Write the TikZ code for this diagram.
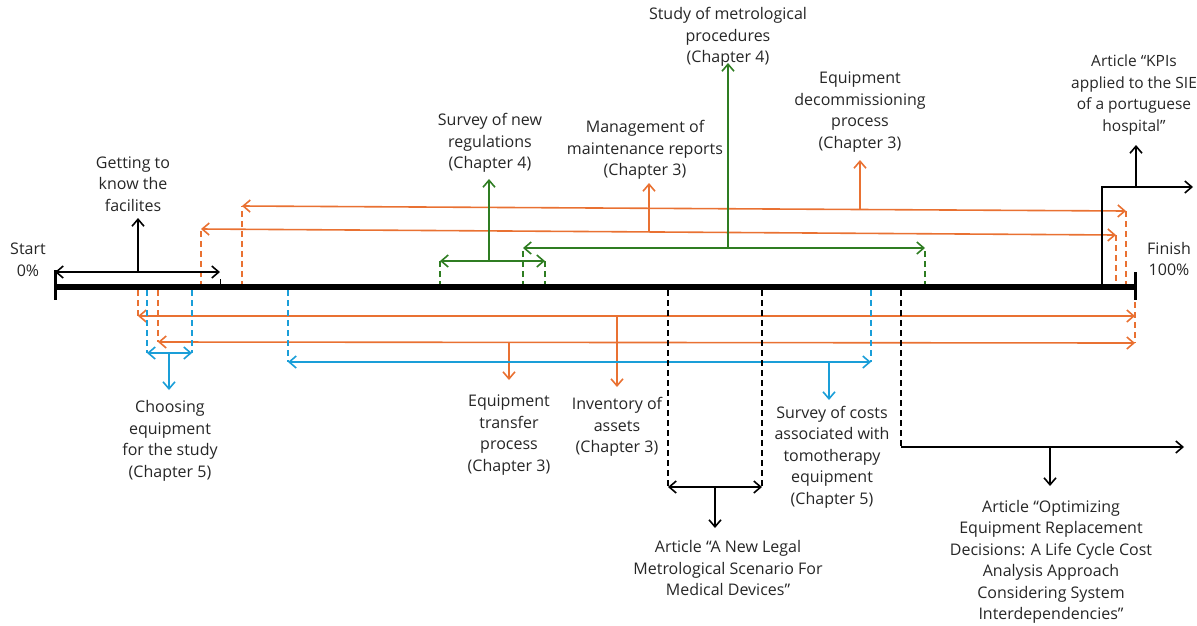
\documentclass[tikz,border=0pt]{standalone}
\usepackage{fontspec}
\setmainfont{Open Sans}
\usetikzlibrary{arrows.meta}
\definecolor{tlorange}{HTML}{E97132}
\definecolor{tlblue}{HTML}{1A9ED8}
\definecolor{tlgreen}{HTML}{2F7D22}
\definecolor{tltext}{HTML}{262626}
\begin{document}
\begin{tikzpicture}[x=1pt,y=-1pt,
  lbl/.style={align=center,inner sep=0pt,font=\fontsize{16}{21.5}\selectfont,text=tltext},
  tip/.tip={Straight Barb[length=7pt,width=12pt]},
  span/.style={line width=1.6pt,tip-tip},
  pointer/.style={line width=1.6pt,-tip},
  guide/.style={line width=1.6pt,dash pattern=on 6pt off 4pt},
]
\useasboundingbox (0,0) rectangle (1197,625);

% ---- main time axis ----
\coordinate (ax0) at (55,287);
\coordinate (ax1) at (1135,287);
\coordinate (st0) at (55,270);
\coordinate (st1) at (55,300);
\coordinate (fn0) at (1135,272);
\coordinate (fn1) at (1135,300);

\node[lbl] (start) at (28,260) {Start\\0\%};
\node[lbl] (finish) at (1169,259) {Finish\\100\%};

% ---- orange items ----
% Equipment decommissioning process
\coordinate (dc0) at (242,287); \coordinate (dc1) at (242,206);
\coordinate (dc2) at (1126,211); \coordinate (dc3) at (1126,287);
\coordinate (dcm) at (860,209); \coordinate (dct) at (860,160);
\draw[tlorange,guide] (dc0) -- (dc1);
\draw[tlorange,guide] (dc2) -- (dc3);
\draw[tlorange,span] (dc1) -- (dc2);
\draw[tlorange,pointer] (dcm) -- (dct);
\node[lbl] (decom) at (860,112) {Equipment\\decommissioning\\process\\(Chapter 3)};

% Management of maintenance reports
\coordinate (mr0) at (201,287); \coordinate (mr1) at (201,229);
\coordinate (mr2) at (1116,235); \coordinate (mr3) at (1116,287);
\coordinate (mrm) at (649,232); \coordinate (mrt) at (649,183);
\draw[tlorange,guide] (mr0) -- (mr1);
\draw[tlorange,guide] (mr2) -- (mr3);
\draw[tlorange,span] (mr1) -- (mr2);
\draw[tlorange,pointer] (mrm) -- (mrt);
\node[lbl] (maint) at (645,150) {Management of\\maintenance reports\\(Chapter 3)};

% Inventory of assets
\coordinate (iv0) at (138,290); \coordinate (iv1) at (138,316);
\coordinate (iv2) at (1135,316); \coordinate (iv3) at (1135,290);
\coordinate (ivm) at (617,316); \coordinate (ivt) at (617,387);
\draw[tlorange,guide] (iv0) -- (iv1);
\draw[tlorange,span] (iv1) -- (iv2);
\draw[tlorange,pointer] (ivm) -- (ivt);
\node[lbl] (invent) at (617,427) {Inventory of\\assets\\(Chapter 3)};

% Equipment transfer process
\coordinate (tr0) at (158,290); \coordinate (tr1) at (158,342);
\coordinate (tr2) at (1135,343); \coordinate (tr3) at (1135,292);
\coordinate (trm) at (509,342); \coordinate (trt) at (509,380);
\draw[tlorange,guide] (tr0) -- (tr1);
\draw[tlorange,guide] (tr3) -- (tr2);
\draw[tlorange,span] (tr1) -- (tr2);
\draw[tlorange,pointer] (trm) -- (trt);
\node[lbl] (transf) at (509,435) {Equipment\\transfer\\process\\(Chapter 3)};

% ---- blue items ----
% Choosing equipment for the study
\coordinate (ch0) at (147,290); \coordinate (ch1) at (147,353);
\coordinate (ch2) at (192,353); \coordinate (ch3) at (192,290);
\coordinate (chm) at (169,353); \coordinate (cht) at (169,390);
\draw[tlblue,guide] (ch0) -- (ch1);
\draw[tlblue,guide] (ch3) -- (ch2);
\draw[tlblue,span] (ch1) -- (ch2);
\draw[tlblue,pointer] (chm) -- (cht);
\node[lbl] (choose) at (170,441) {Choosing\\equipment\\for the study\\(Chapter 5)};

% Survey of costs
\coordinate (sc0) at (288,290); \coordinate (sc1) at (288,362);
\coordinate (sc2) at (871,362); \coordinate (sc3) at (871,290);
\coordinate (scm) at (829,362); \coordinate (sct) at (829,400);
\draw[tlblue,guide] (sc0) -- (sc1);
\draw[tlblue,guide] (sc3) -- (sc2);
\draw[tlblue,span] (sc1) -- (sc2);
\draw[tlblue,pointer] (scm) -- (sct);
\node[lbl] (costs) at (832,457) {Survey of costs\\associated with\\tomotherapy\\equipment\\(Chapter 5)};

% ---- green items ----
% Survey of new regulations
\coordinate (rg0) at (440,287); \coordinate (rg1) at (440,261);
\coordinate (rg2) at (545,261); \coordinate (rg3) at (545,287);
\coordinate (rgm) at (489,261); \coordinate (rgt) at (489,179);
\draw[tlgreen,guide] (rg0) -- (rg1);
\draw[tlgreen,guide] (rg3) -- (rg2);
\draw[tlgreen,span] (rg1) -- (rg2);
\draw[tlgreen,pointer] (rgm) -- (rgt);
\node[lbl] (regul) at (490,143) {Survey of new\\regulations\\(Chapter 4)};

% Study of metrological procedures
\coordinate (mp0) at (523,287); \coordinate (mp1) at (523,248);
\coordinate (mp2) at (925,248); \coordinate (mp3) at (925,287);
\coordinate (mpm) at (728,248); \coordinate (mpt) at (728,63);
\draw[tlgreen,guide] (mp0) -- (mp1);
\draw[tlgreen,guide] (mp3) -- (mp2);
\draw[tlgreen,span] (mp1) -- (mp2);
\draw[tlgreen,pointer] (mpm) -- (mpt);
\node[lbl] (metro) at (728,37) {Study of metrological\\procedures\\(Chapter 4)};

% ---- black items ----
% Getting to know the facilites
\coordinate (gk0) at (55,272); \coordinate (gk1) at (220,272);
\coordinate (gkm) at (138,272); \coordinate (gkt) at (138,218);
\coordinate (gs0) at (220,279); \coordinate (gs1) at (220,285);
\draw[black,span] (gk0) -- (gk1);
\draw[black,pointer] (gkm) -- (gkt);
\draw[black,line width=1pt] (gs0) -- (gs1);
\node[lbl] (facil) at (133,184) {Getting to\\know the\\facilites};

% Article on legal metrology
\coordinate (lg0) at (668,290); \coordinate (lg1) at (668,487);
\coordinate (lg2) at (762,487); \coordinate (lg3) at (762,290);
\coordinate (lgm) at (715,487); \coordinate (lgt) at (715,528);
\draw[black,guide] (lg0) -- (lg1);
\draw[black,guide] (lg3) -- (lg2);
\draw[black,span] (lg1) -- (lg2);
\draw[black,pointer] (lgm) -- (lgt);
\node[lbl] (legal) at (728,568) {Article “A New Legal\\Metrological Scenario For\\Medical Devices”};

% Article on equipment replacement
\coordinate (op0) at (901,290); \coordinate (op1) at (901,447);
\coordinate (op2) at (1184,447);
\coordinate (opm) at (1050,447); \coordinate (opt) at (1050,486);
\draw[black,guide] (op0) -- (op1);
\draw[black,pointer] (op1) -- (op2);
\draw[black,pointer] (opm) -- (opt);
\node[lbl] (optim) at (1051,562) {Article “Optimizing\\Equipment Replacement\\Decisions: A Life Cycle Cost\\Analysis Approach\\Considering System\\Interdependencies”};

% Article on KPIs
\coordinate (kp0) at (1102,287); \coordinate (kp1) at (1102,187);
\coordinate (kp2) at (1193,187);
\coordinate (kpm) at (1136,187); \coordinate (kpt) at (1136,145);
\draw[black,line width=1.6pt,-tip] (kp0) -- (kp1) -- (kp2);
\draw[black,pointer] (kpm) -- (kpt);
\node[lbl,font=\fontsize{15.5}{21.5}\selectfont] (kpis) at (1134,95) {Article “KPIs\\applied to the SIE\\of a portuguese\\hospital”};

% axis drawn last so it covers the guide ends
\draw[black,line width=6pt] (ax0) -- (ax1);
\draw[black,line width=3pt] (st0) -- (st1);
\draw[black,line width=3pt] (fn0) -- (fn1);
\end{tikzpicture}
\end{document}
